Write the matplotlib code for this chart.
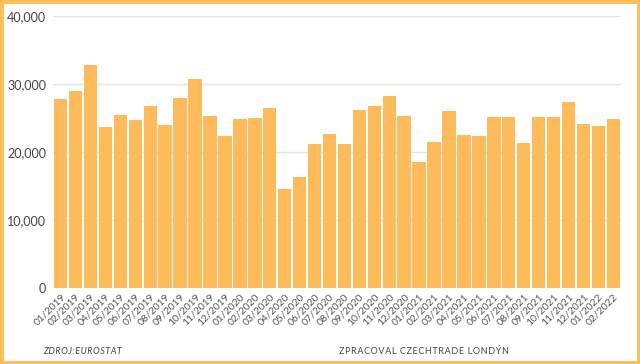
import matplotlib
matplotlib.use("Agg")
import matplotlib.pyplot as plt
from matplotlib.patches import Rectangle

months = [
    "01/2019", "02/2019", "03/2019", "04/2019", "05/2019", "06/2019",
    "07/2019", "08/2019", "09/2019", "10/2019", "11/2019", "12/2019",
    "01/2020", "02/2020", "03/2020", "04/2020", "05/2020", "06/2020",
    "07/2020", "08/2020", "09/2020", "10/2020", "11/2020", "12/2020",
    "01/2021", "02/2021", "03/2021", "04/2021", "05/2021", "06/2021",
    "07/2021", "08/2021", "09/2021", "10/2021", "11/2021", "12/2021",
    "01/2022", "02/2022",
]
values = [
    27800, 29000, 32800, 23700, 25500, 24700,
    26800, 24000, 28000, 30800, 25300, 22300,
    24800, 25000, 26500, 14500, 16300, 21200,
    22700, 21200, 26200, 26800, 28200, 25300,
    18500, 21500, 26000, 22500, 22400, 25100,
    25200, 21300, 25100, 25100, 27400, 24100,
    23800, 24800,
]
y_ticks = [0, 10000, 20000, 30000, 40000]
source_text = "ZDROJ:EUROSTAT"
credit_text = "ZPRACOVAL CZECHTRADE LONDÝN"

bar_color = "#FDBB5C"
frame_color = "#FBBF5A"
text_color = "#444444"

plt.rcParams["font.family"] = ["Lato", "DejaVu Sans"]


def spaced(s):
    # letter spacing with hair spaces
    return "\u200a".join(s)


fig = plt.figure(figsize=(6.4, 3.64), dpi=100)
ax = fig.add_axes([0.083, 0.209, 0.887, 0.747])

x = list(range(len(months)))
ax.bar(x, values, width=0.9, color=bar_color, zorder=2)

ax.set_ylim(0, 40000)
ax.set_xlim(-0.5, len(months) - 0.5)
ax.set_yticks(y_ticks)
ax.set_yticklabels([f"{v:,}" for v in y_ticks], fontsize=9, color=text_color)
ax.set_xticks(x)
ax.set_xticklabels(months, rotation=45, ha="right", rotation_mode="anchor",
                   fontsize=7.5, color="#555555")
ax.tick_params(axis="both", length=0, pad=5)
ax.tick_params(axis="x", pad=3)
ax.grid(axis="y", color="#e3e3e8", linewidth=1, zorder=0)
for side in ["top", "right", "left", "bottom"]:
    ax.spines[side].set_visible(False)

fig.text(0.068, 0.035, spaced(source_text), fontsize=6.5, style="italic",
         color=text_color, ha="left", va="center")
fig.text(0.795, 0.035, spaced(credit_text), fontsize=6.5,
         color=text_color, ha="right", va="center")

fig.patches.append(Rectangle((0.002, 0.003), 0.996, 0.994, transform=fig.transFigure,
                             fill=False, edgecolor=frame_color, linewidth=3.5))

fig.savefig("out.png", dpi=100)
